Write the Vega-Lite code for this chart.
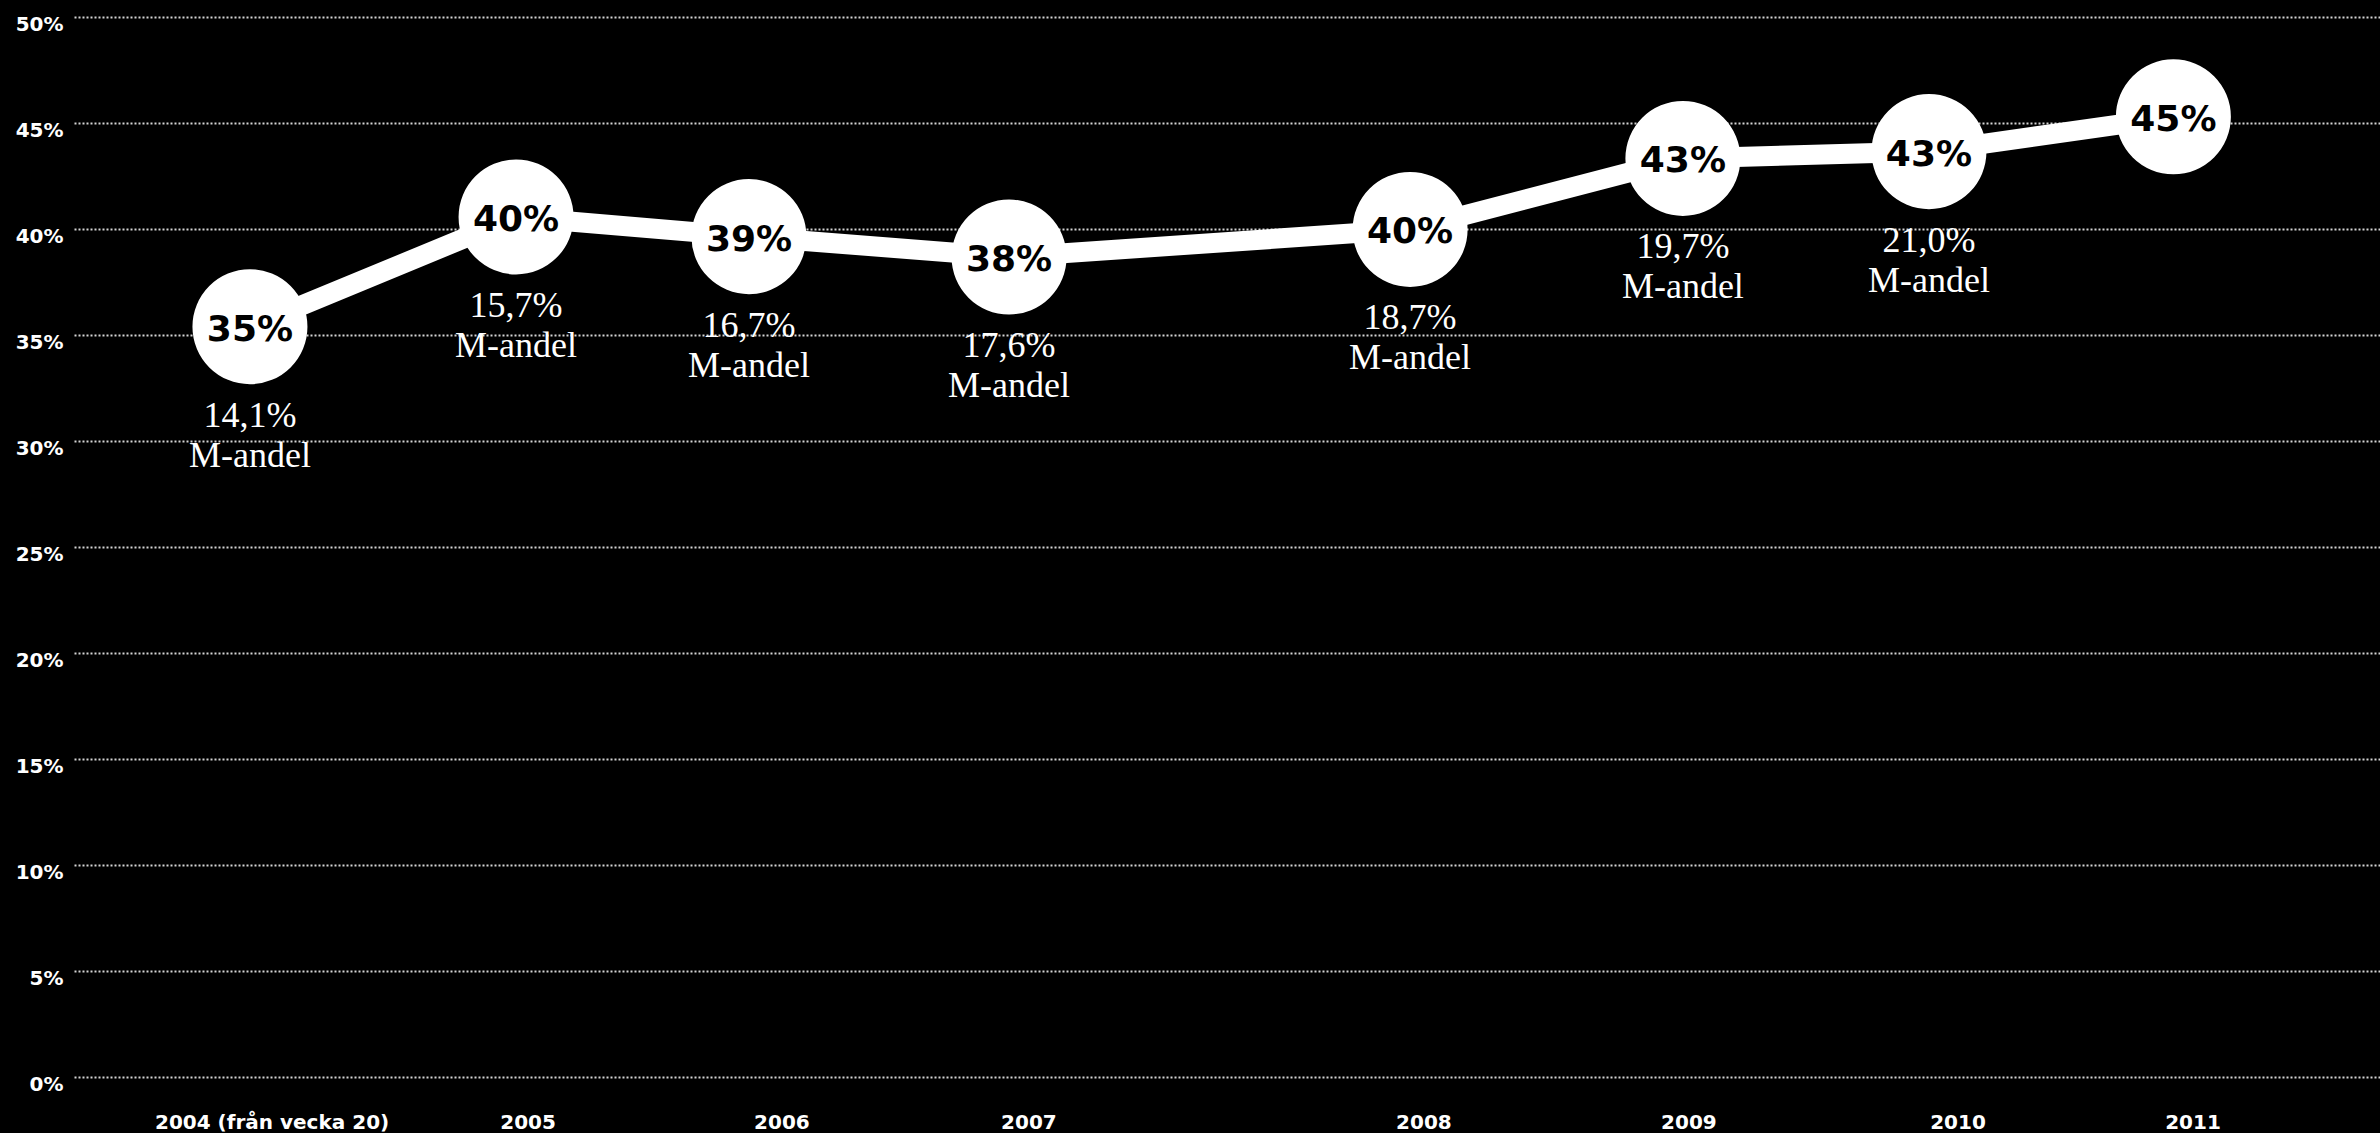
{
  "$schema": "https://vega.github.io/schema/vega-lite/v6.json",
  "width": 2306,
  "height": 1060,
  "autosize": {"type": "none"},
  "padding": {"left": 74, "top": 17, "right": 0, "bottom": 56},
  "background": "black",
  "config": {"view": {"stroke": null}},
  "datasets": {
    "points": [
      {"year": "2004", "pos": 7.63, "share": 35.39, "label": "35%", "note": ["14,1%", "M-andel"]},
      {"year": "2005", "pos": 19.17, "share": 40.57, "label": "40%", "note": ["15,7%", "M-andel"]},
      {"year": "2006", "pos": 29.27, "share": 39.64, "label": "39%", "note": ["16,7%", "M-andel"]},
      {"year": "2007", "pos": 40.55, "share": 38.68, "label": "38%", "note": ["17,6%", "M-andel"]},
      {"year": "2008", "pos": 57.94, "share": 39.98, "label": "40%", "note": ["18,7%", "M-andel"]},
      {"year": "2009", "pos": 69.77, "share": 43.33, "label": "43%", "note": ["19,7%", "M-andel"]},
      {"year": "2010", "pos": 80.44, "share": 43.65, "label": "43%", "note": ["21,0%", "M-andel"]},
      {"year": "2011", "pos": 91.04, "share": 45.29, "label": "45%", "note": null}
    ],
    "xlabels": [
      {"text": "2004 (från vecka 20)", "pos": 8.59},
      {"text": "2005", "pos": 19.69},
      {"text": "2006", "pos": 30.70},
      {"text": "2007", "pos": 41.41},
      {"text": "2008", "pos": 58.54},
      {"text": "2009", "pos": 70.03},
      {"text": "2010", "pos": 81.70},
      {"text": "2011", "pos": 91.89}
    ]
  },
  "layer": [
    {
      "data": {"name": "points"},
      "mark": {"type": "line", "color": "white", "strokeWidth": 20},
      "encoding": {
        "x": {"field": "pos", "type": "quantitative", "scale": {"domain": [0, 100]}, "axis": null},
        "y": {
          "field": "share", "type": "quantitative",
          "scale": {"domain": [0, 50]},
          "axis": {
            "title": null,
            "values": [0, 5, 10, 15, 20, 25, 30, 35, 40, 45, 50],
            "labelExpr": "datum.value + '%'",
            "grid": true,
            "gridColor": "#d4d4d4",
            "gridDash": [2, 2],
            "gridWidth": 2,
            "domain": false,
            "ticks": false,
            "labelColor": "white",
            "labelFont": "DejaVu Sans",
            "labelFontWeight": "bold",
            "labelFontSize": 20,
            "labelPadding": 11,
            "labelBaseline": "alphabetic",
            "labelOffset": 13
          }
        }
      }
    },
    {
      "data": {"name": "points"},
      "mark": {"type": "point", "filled": true, "shape": "circle", "color": "white", "opacity": 1, "size": 13225},
      "encoding": {
        "x": {"field": "pos", "type": "quantitative"},
        "y": {"field": "share", "type": "quantitative"}
      }
    },
    {
      "data": {"name": "points"},
      "mark": {"type": "text", "color": "black", "font": "DejaVu Sans", "fontWeight": "bold", "fontSize": 36, "align": "center", "baseline": "middle", "dy": 3},
      "encoding": {
        "x": {"field": "pos", "type": "quantitative"},
        "y": {"field": "share", "type": "quantitative"},
        "text": {"field": "label"}
      }
    },
    {
      "data": {"name": "points"},
      "transform": [{"filter": "datum.note != null"}],
      "mark": {"type": "text", "color": "white", "font": "Liberation Serif", "fontSize": 36, "align": "center", "baseline": "alphabetic", "dy": 100, "lineHeight": 40},
      "encoding": {
        "x": {"field": "pos", "type": "quantitative"},
        "y": {"field": "share", "type": "quantitative"},
        "text": {"field": "note"}
      }
    },
    {
      "data": {"name": "xlabels"},
      "mark": {"type": "text", "color": "white", "font": "DejaVu Sans", "fontWeight": "bold", "fontSize": 20, "align": "center", "baseline": "alphabetic", "dy": 52},
      "encoding": {
        "x": {"field": "pos", "type": "quantitative"},
        "y": {"datum": 0},
        "text": {"field": "text"}
      }
    }
  ]
}
